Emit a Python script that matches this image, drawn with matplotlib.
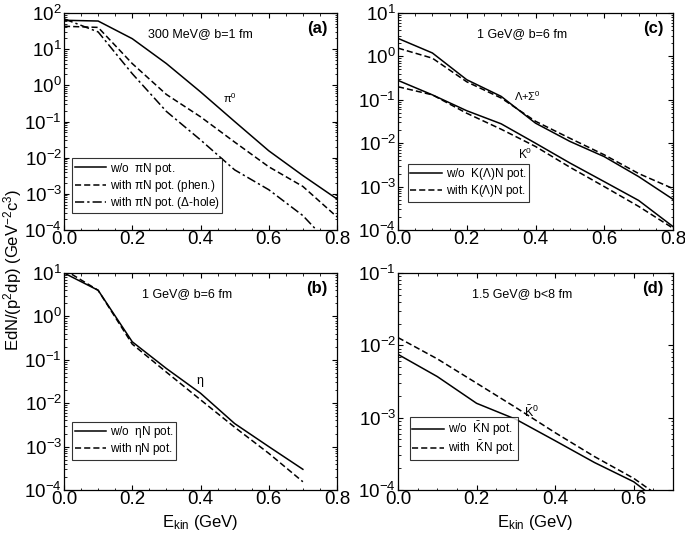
import matplotlib
matplotlib.use("Agg")
import matplotlib.pyplot as plt
from matplotlib.ticker import FormatStrFormatter, LogLocator, MultipleLocator
import numpy as np

plt.rcParams['font.family'] = ['Liberation Sans', 'DejaVu Sans']
plt.rcParams['mathtext.default'] = 'regular'

# ---- data ------------------------------------------------------------------
e_a = [0.0, 0.1, 0.2, 0.3, 0.4, 0.5, 0.6, 0.7, 0.8]
a_wo = [63, 60, 19.5, 4.0, 0.66, 0.10, 0.0155, 3.2e-3, 7.2e-4]
a_phen = [43, 40, 4.0, 0.56, 0.135, 0.027, 5.6e-3, 1.6e-3, 2.3e-4]
a_dhole = [69, 30, 2.1, 0.19, 0.031, 4.6e-3, 1.3e-3, 2.5e-4, 2.5e-5]

e_b = [0.0, 0.1, 0.2, 0.3, 0.4, 0.5, 0.6, 0.7]
b_wo = [10, 4.0, 0.26, 0.063, 0.017, 3.4e-3, 1.0e-3, 3.0e-4]
b_with = [12, 4.0, 0.23, 0.052, 0.012, 2.8e-3, 7.0e-4, 1.55e-4]

e_c = [0.0, 0.1, 0.2, 0.3, 0.4, 0.5, 0.6, 0.7, 0.8]
c_lam_wo = [2.6, 1.2, 0.29, 0.12, 0.029, 0.011, 4.9e-3, 1.7e-3, 5.1e-4]
c_lam_with = [1.55, 0.91, 0.26, 0.11, 0.032, 0.013, 5.4e-3, 2.0e-3, 9.0e-4]
c_k_wo = [0.28, 0.13, 0.056, 0.028, 0.010, 3.5e-3, 1.3e-3, 4.8e-4, 1.2e-4]
c_k_with = [0.20, 0.13, 0.049, 0.021, 8.4e-3, 2.8e-3, 1.0e-3, 3.5e-4, 1.1e-4]

e_d = [0.0, 0.1, 0.2, 0.3, 0.4, 0.5, 0.6, 0.7]
d_wo = [7.5e-3, 3.7e-3, 1.58e-3, 9.5e-4, 4.8e-4, 2.4e-4, 1.3e-4, 5.0e-5]
d_with = [1.28e-2, 6.5e-3, 3.0e-3, 1.38e-3, 6.2e-4, 2.9e-4, 1.45e-4, 6.0e-5]

# ---- figure -----------------------------------------------------------------
fig = plt.figure(figsize=(6.85, 5.39), dpi=100)
W, H = 685., 539.


def make_axes(x0, y0, x1, y1):
    return fig.add_axes([x0 / W, 1 - y1 / H, (x1 - x0) / W, (y1 - y0) / H])


ax_a = make_axes(64, 13, 337, 230)
ax_c = make_axes(398, 13, 673, 230)
ax_b = make_axes(64, 273, 337, 490)
ax_d = make_axes(398, 273, 673, 490)

dash = (0, (4, 2))
dashdot = (0, (6, 2, 1.5, 2))
lw = 1.1


def style(ax, xmax, ylo, yhi):
    ax.set_yscale('log')
    ax.set_xlim(0, xmax)
    ax.set_ylim(ylo, yhi)
    ax.xaxis.set_major_locator(MultipleLocator(0.2))
    ax.xaxis.set_minor_locator(MultipleLocator(0.05))
    ax.xaxis.set_major_formatter(FormatStrFormatter('%.1f'))
    ax.yaxis.set_major_locator(LogLocator(base=10, numticks=20))
    ax.yaxis.set_minor_locator(LogLocator(base=10, subs=np.arange(2, 10), numticks=20))
    ax.tick_params(which='both', direction='in', top=True, right=True,
                   labelsize=13.5)
    ax.tick_params(which='major', length=3.5)
    ax.tick_params(which='minor', length=1.8)
    ax.tick_params(axis='x', pad=0.5)
    ax.tick_params(axis='y', pad=1.5)
    for s in ax.spines.values():
        s.set_linewidth(0.9)


def legend(ax, handles_labels, bbox):
    leg = ax.legend(*handles_labels, loc='lower left', bbox_to_anchor=bbox,
                    fontsize=8.5, frameon=True, fancybox=False, handlelength=2.7,
                    handletextpad=0.3, borderpad=0.2, labelspacing=0.1,
                    borderaxespad=0)
    leg.get_frame().set_edgecolor('black')
    leg.get_frame().set_linewidth(0.8)


# (a)
l1, = ax_a.plot(e_a, a_wo, color='black', lw=lw)
l2, = ax_a.plot(e_a, a_phen, color='black', lw=lw, ls=dash)
l3, = ax_a.plot(e_a, a_dhole, color='black', lw=lw, ls=dashdot)
style(ax_a, 0.8, 1e-4, 1e2)
ax_a.text(0.5, 0.905, '300 MeV@ b=1 fm', transform=ax_a.transAxes,
          ha='center', va='center', fontsize=9)
ax_a.text(0.965, 0.93, '(a)', transform=ax_a.transAxes, ha='right',
          va='center', fontsize=12, fontweight='bold')
ax_a.text(0.487, 0.44, r'$\pi^0$', fontsize=8, ha='center', va='center')
legend(ax_a, ([l1, l2, l3], [r'w/o  $\pi$N pot.', r'with $\pi$N pot. (phen.)',
                             r'with $\pi$N pot. ($\Delta$-hole)']), (0.03, 0.077))

# (c)
m1, = ax_c.plot(e_c, c_lam_wo, color='black', lw=lw)
m2, = ax_c.plot(e_c, c_lam_with, color='black', lw=lw, ls=dash)
ax_c.plot(e_c, c_k_wo, color='black', lw=lw)
ax_c.plot(e_c, c_k_with, color='black', lw=lw, ls=dash)
style(ax_c, 0.8, 1e-4, 1e1)
ax_c.text(0.45, 0.905, '1 GeV@ b=6 fm', transform=ax_c.transAxes,
          ha='center', va='center', fontsize=9)
ax_c.text(0.965, 0.93, '(c)', transform=ax_c.transAxes, ha='right',
          va='center', fontsize=12, fontweight='bold')
ax_c.text(0.378, 0.12, r'$\Lambda$+$\Sigma^0$', fontsize=8, ha='center', va='center')
ax_c.text(0.37, 5.4e-3, r'K$^0$', fontsize=8.5, ha='center', va='center')
legend(ax_c, ([m1, m2], [r'w/o  K($\Lambda$)N pot.', r'with K($\Lambda$)N pot.']),
       (0.036, 0.13))

# (b)
n1, = ax_b.plot(e_b, b_wo, color='black', lw=lw)
n2, = ax_b.plot(e_b, b_with, color='black', lw=lw, ls=dash)
style(ax_b, 0.8, 1e-4, 1e1)
ax_b.text(0.45, 0.905, '1 GeV@ b=6 fm', transform=ax_b.transAxes,
          ha='center', va='center', fontsize=9)
ax_b.text(0.965, 0.93, '(b)', transform=ax_b.transAxes, ha='right',
          va='center', fontsize=12, fontweight='bold')
ax_b.text(0.4, 0.031, r'$\eta$', fontsize=9, ha='center', va='center')
ax_b.set_xlabel(r'E$_{kin}$ (GeV)', fontsize=12, labelpad=4)
legend(ax_b, ([n1, n2], [r'w/o  $\eta$N pot.', r'with $\eta$N pot.']), (0.03, 0.14))

# (d)
k1, = ax_d.plot(e_d, d_wo, color='black', lw=lw)
k2, = ax_d.plot(e_d, d_with, color='black', lw=lw, ls=dash)
style(ax_d, 0.7, 1e-4, 1e-1)
ax_d.text(0.45, 0.905, '1.5 GeV@ b<8 fm', transform=ax_d.transAxes,
          ha='center', va='center', fontsize=9)
ax_d.text(0.965, 0.93, '(d)', transform=ax_d.transAxes, ha='right',
          va='center', fontsize=12, fontweight='bold')
ax_d.text(0.34, 1.2e-3, r'$\bar{K}^0$', fontsize=9, ha='center', va='center')
ax_d.set_xlabel(r'E$_{kin}$ (GeV)', fontsize=12, labelpad=4)
legend(ax_d, ([k1, k2], [r'w/o  $\bar{K}$N pot.', r'with  $\bar{K}$N pot.']),
       (0.044, 0.14))

fig.text(0.018, 0.5, r'EdN/(p$^2$dp) (GeV$^{-2}$c$^3$)', rotation=90,
         ha='center', va='center', fontsize=12)

fig.savefig('out.png', dpi=100)
